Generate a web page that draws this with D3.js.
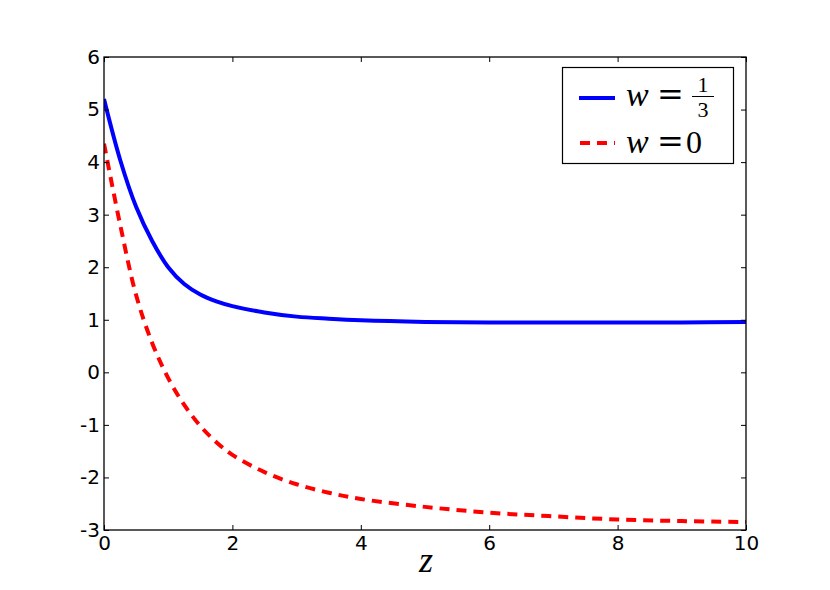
<!DOCTYPE html>
<html>
<head>
<meta charset="utf-8">
<script src="https://cdn.jsdelivr.net/npm/d3@7"></script>
<style>
body { margin: 0; background: #fff; }
.tick text { font-family: "DejaVu Sans"; font-size: 20px; fill: #000; }
.tick line { stroke: #000; stroke-width: 1; }
.math { font-family: "Liberation Serif", serif; fill: #000; }
</style>
</head>
<body>
<div id="content"></div>
<script>
// values
const Z         = [0, 0.25, 0.5, 0.75, 1, 1.25, 1.5, 1.75, 2, 2.5, 3, 3.5, 4, 5, 6, 7, 8, 9, 10];
const W_THIRD   = [5.2, 4.05, 3.15, 2.5, 2.0, 1.68, 1.48, 1.35, 1.26, 1.14, 1.06, 1.02, 0.99, 0.96, 0.95, 0.95, 0.95, 0.95, 0.96];
const W_ZERO    = [4.35, 2.82, 1.47, 0.56, -0.11, -0.62, -1.02, -1.33, -1.57, -1.9, -2.13, -2.29, -2.41, -2.56, -2.67, -2.74, -2.8, -2.83, -2.85];
const X_TICKS   = [0, 2, 4, 6, 8, 10];
const Y_TICKS   = [-3, -2, -1, 0, 1, 2, 3, 4, 5, 6];

var margin = {left: 104, top: 57};
var width = 642;
var height = 473;

var svg = d3.select('#content')
.append('svg')
.attr('width', 830)
.attr('height', 590);

svg.append('rect')
.attr('width', 830)
.attr('height', 590)
.attr('fill', '#fff');

var g = svg.append('g')
.attr('transform', `translate(${margin.left}, ${margin.top})`);

var xScale = d3.scaleLinear().domain([0, 10]).range([0, width]);
var yScale = d3.scaleLinear().domain([-3, 6]).range([height, 0]);

g.append('clipPath')
.attr('id', 'clip')
.append('rect')
.attr('width', width)
.attr('height', height);

var line = function (vals) {
    return d3.line()
    .x(function (d, i) {return xScale(Z[i])})
    .y(function (d) {return yScale(d)})
    .curve(d3.curveCatmullRom.alpha(0.5))(vals);
};

g.append('path')
.attr('d', line(W_ZERO))
.attr('clip-path', 'url(#clip)')
.attr('fill', 'none')
.attr('stroke', '#ff0000')
.attr('stroke-width', 4)
.attr('stroke-dasharray', '10,7');

g.append('path')
.attr('d', line(W_THIRD))
.attr('clip-path', 'url(#clip)')
.attr('fill', 'none')
.attr('stroke', '#0000ff')
.attr('stroke-width', 4);

// axes, ticks pointing inward on all four sides
g.append('g')
.attr('transform', `translate(0, ${height})`)
.call(d3.axisBottom(xScale).tickValues(X_TICKS).tickSizeInner(-5).tickSizeOuter(0).tickPadding(6))
.call(a => a.select('.domain').remove());

g.append('g')
.call(d3.axisTop(xScale).tickValues(X_TICKS).tickSizeInner(-5).tickSizeOuter(0).tickFormat(''))
.call(a => a.select('.domain').remove());

g.append('g')
.call(d3.axisLeft(yScale).tickValues(Y_TICKS).tickSizeInner(-5).tickSizeOuter(0).tickPadding(4).tickFormat(d3.format('d')))
.call(a => a.select('.domain').remove());

g.append('g')
.attr('transform', `translate(${width}, 0)`)
.call(d3.axisRight(yScale).tickValues(Y_TICKS).tickSizeInner(-5).tickSizeOuter(0).tickFormat(''))
.call(a => a.select('.domain').remove());

g.selectAll('.tick text').text(function () {return this.textContent.replace('\u2212', '-')});

g.append('rect')
.attr('width', width)
.attr('height', height)
.attr('fill', 'none')
.attr('stroke', '#000')
.attr('stroke-width', 1.3);

// x label
svg.append('text')
.attr('class', 'math')
.attr('x', margin.left + width / 2 + 1)
.attr('y', 572)
.attr('text-anchor', 'middle')
.attr('font-size', 36)
.attr('font-style', 'italic')
.text('z');

// legend
var leg = svg.append('g');
leg.append('rect')
.attr('x', 562.5)
.attr('y', 67.5)
.attr('width', 171)
.attr('height', 96)
.attr('fill', '#fff')
.attr('stroke', '#000')
.attr('stroke-width', 1.2);

leg.append('line')
.attr('x1', 579).attr('x2', 615)
.attr('y1', 98).attr('y2', 98)
.attr('stroke', '#0000ff')
.attr('stroke-width', 4);

leg.append('line')
.attr('x1', 580).attr('x2', 615)
.attr('y1', 143).attr('y2', 143)
.attr('stroke', '#ff0000')
.attr('stroke-width', 4)
.attr('stroke-dasharray', '10,7');

function mathRow(y, upright) {
    leg.append('text').attr('class', 'math').attr('x', 626).attr('y', y)
    .attr('font-size', 34).attr('font-style', 'italic').text('w');
    leg.append('text').attr('x', 657).attr('y', y - 1)
    .attr('font-family', 'DejaVu Serif').attr('font-size', 32).text('=');
    if (upright) {
        leg.append('text').attr('class', 'math').attr('x', 686).attr('y', y)
        .attr('font-size', 32).text(upright);
    }
}

mathRow(106, null);
leg.append('text').attr('class', 'math').attr('x', 703).attr('y', 92)
.attr('text-anchor', 'middle').attr('font-size', 22).text('1');
leg.append('line')
.attr('x1', 692).attr('x2', 714)
.attr('y1', 96.5).attr('y2', 96.5)
.attr('stroke', '#000').attr('stroke-width', 1);
leg.append('text').attr('class', 'math').attr('x', 703).attr('y', 117)
.attr('text-anchor', 'middle').attr('font-size', 22).text('3');

mathRow(153, '0');
</script>
</body>
</html>
